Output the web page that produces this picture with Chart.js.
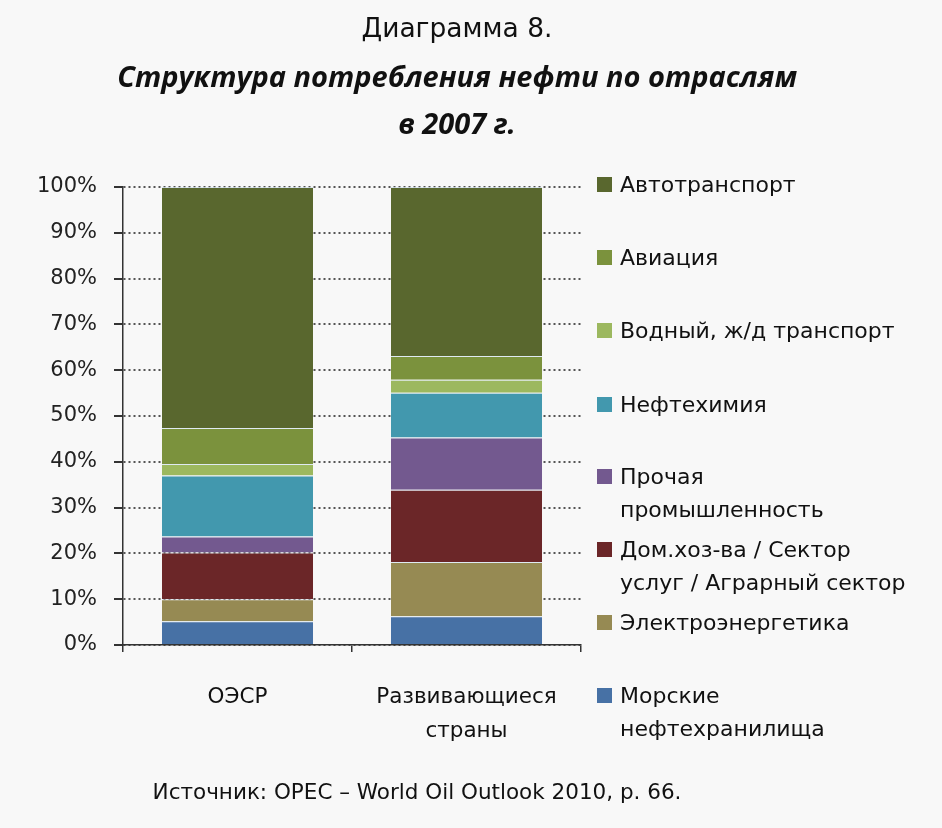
<!DOCTYPE html>
<html><head><meta charset="utf-8">
<script src="https://cdn.jsdelivr.net/npm/chart.js@4"></script>
<style>
html,body{margin:0;padding:0;background:#f8f8f8;}
#wrap{position:relative;width:942px;height:828px;font-family:'DejaVu Sans',sans-serif;color:#111;overflow:hidden;}
canvas{position:absolute;left:0;top:0;}
.t{position:absolute;left:0;width:914px;text-align:center;white-space:nowrap;line-height:1;}
#t1{top:15px;font-size:26.5px;}
#t2{top:61px;font-size:29px;font-weight:bold;font-style:italic;font-family:'Open Sans',sans-serif;}
#t3{top:108px;font-size:29px;font-weight:bold;font-style:italic;font-family:'Open Sans',sans-serif;}
#src{top:781px;font-size:21.5px;left:0;width:834px;}
.lg{position:absolute;left:597px;font-size:22px;line-height:33px;white-space:nowrap;}
.lg i{position:absolute;left:0;top:9px;width:15px;height:15px;}
.lg span{position:absolute;left:23px;top:0;}
</style>
</head><body>
<div id="wrap">
<canvas id="c" width="942" height="828"></canvas>
<div class="t" id="t1">Диаграмма 8.</div>
<div class="t" id="t2">Структура потребления нефти по отраслям</div>
<div class="t" id="t3">в 2007 г.</div>
<div class="t" id="src">Источник: OPEC – World Oil Outlook 2010, p. 66.</div>
<div id="legend"></div>
</div>
<script>
// Categories (x axis)
const categories = [['ОЭСР'], ['Развивающиеся', 'страны']];
// Y tick values (percent)
const yTicks = [0, 10, 20, 30, 40, 50, 60, 70, 80, 90, 100];

// Series values, % share (ОЭСР, Развивающиеся страны), bottom to top
const marineStorage = [5.2, 6.3];
const powerGeneration = [4.8, 11.8];
const householdsServicesAgri = [10.2, 15.8];
const otherIndustry = [3.5, 11.4];
const petrochemicals = [13.3, 9.8];
const waterRail = [2.5, 2.8];
const aviation = [7.9, 5.2];
const roadTransport = [52.6, 36.9];

// Series names (legend lines)
const names = [
  ['Морские', 'нефтехранилища'],
  ['Электроэнергетика'],
  ['Дом.хоз-ва / Сектор', 'услуг / Аграрный сектор'],
  ['Прочая', 'промышленность'],
  ['Нефтехимия'],
  ['Водный, ж/д транспорт'],
  ['Авиация'],
  ['Автотранспорт']
];
const colors = ['#4771a5', '#968a53', '#6b2628', '#73598f', '#4298ae', '#9cb85f', '#7b923d', '#59672e'];
const values = [marineStorage, powerGeneration, householdsServicesAgri, otherIndustry, petrochemicals, waterRail, aviation, roadTransport];
// legend item top positions (top to bottom order: Авто ... Морские)
const legendTops = [168, 241, 314, 388, 460, 533, 606, 679];

const datasets = values.map((v, i) => ({
  label: names[i].join(' '),
  data: v,
  backgroundColor: colors[i],
  borderColor: 'rgba(215,230,240,0.75)',
  borderWidth: {top: 1, bottom: 0, left: 0, right: 0},
  borderSkipped: false,
  categoryPercentage: 1.0,
  barPercentage: 0.66
}));

// HTML legend (top to bottom = reversed stack order)
const lg = document.getElementById('legend');
for (let k = 0; k < names.length; k++) {
  const i = names.length - 1 - k;
  const d = document.createElement('div');
  d.className = 'lg';
  d.style.top = legendTops[k] + 'px';
  d.innerHTML = '<i style="background:' + colors[i] + '"></i><span>' + names[i].join('<br>') + '</span>';
  lg.appendChild(d);
}

new Chart(document.getElementById('c'), {
  type: 'bar',
  data: { labels: categories, datasets },
  options: {
    responsive: false,
    animation: false,
    layout: { padding: { top: 187, right: 361, left: 0, bottom: 0 } },
    plugins: { legend: { display: false }, tooltip: { enabled: false } },
    scales: {
      x: {
        stacked: true,
        afterFit: s => { s.height = 183; },
        grid: { display: true, drawOnChartArea: false, drawTicks: true, tickLength: 7, color: '#333', lineWidth: 1.5 },
        border: { display: true, color: '#333', width: 1.5 },
        ticks: { color: '#111', padding: 28, font: { family: 'DejaVu Sans', size: 21.5, lineHeight: 1.6 } }
      },
      y: {
        stacked: true,
        min: 0, max: 100,
        afterFit: s => { s.width = 123; },
        afterBuildTicks: s => { s.ticks = yTicks.map(v => ({ value: v })); },
        grid: { color: '#555', lineWidth: 2, tickLength: 9, tickColor: '#333', tickBorderDash: [] },
        border: { display: true, color: '#333', width: 1.5, dash: [2, 3] },
        ticks: { color: '#222', padding: 17, font: { family: 'DejaVu Sans', size: 21 }, callback: v => v + '%' }
      }
    }
  }
});
</script>
</body></html>
